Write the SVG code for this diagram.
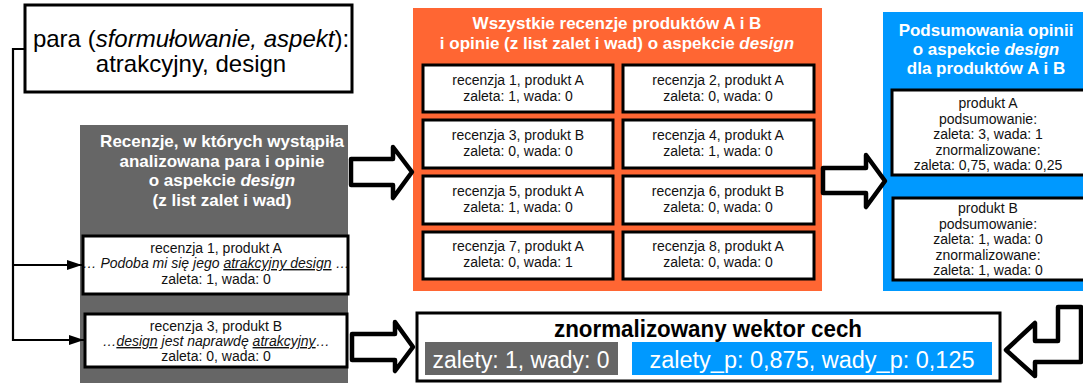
<svg xmlns="http://www.w3.org/2000/svg" width="1083" height="383" viewBox="0 0 1083 383">
  <defs>
    <style>
      text { font-family: "Liberation Sans", Arial, sans-serif; }
      .box { fill: #ffffff; stroke: #000000; stroke-width: 3; }
      .t14 { font-size: 14px; fill: #111111; text-anchor: middle; }
      .head { font-size: 17px; font-weight: bold; fill: #ffffff; text-anchor: middle; }
      .big { font-size: 24px; fill: #000000; text-anchor: middle; }
      .blk { fill: #ffffff; stroke: #000000; stroke-width: 4.5; stroke-linejoin: round; }
      .wire { fill: none; stroke: #000000; stroke-width: 2.2; }
      .u { text-decoration: underline; }
    </style>
    <marker id="tri" markerWidth="16" markerHeight="12" refX="15" refY="6" orient="auto" markerUnits="userSpaceOnUse">
      <path d="M0,1 L15,6 L0,11 Z" fill="#000000"/>
    </marker>
  </defs>

  <!-- word pair -->
  <g id="pair">
    <rect class="box" x="25" y="5" width="327" height="87"/>
    <text class="big" x="191" y="47">para (<tspan font-style="italic">sformułowanie, aspekt</tspan>):</text>
    <text class="big" x="191" y="72">atrakcyjny, design</text>
  </g>

  <!-- reviews that contain the pair -->
  <g id="matched">
    <rect x="80" y="125" width="268" height="270" fill="#666666"/>
    <text class="head" x="222" y="147" font-size="16.8">Recenzje, w których wystąpiła</text>
    <text class="head" x="222" y="167" font-size="16.8">analizowana para i opinie</text>
    <text class="head" x="222" y="186" font-size="16.8">o aspekcie <tspan font-style="italic">design</tspan></text>
    <text class="head" x="222" y="206" font-size="16.8">(z list zalet i wad)</text>
    <g id="matched-r1">
      <rect class="box" x="83" y="236" width="265" height="58"/>
      <text class="t14" x="216" y="253">recenzja 1, produkt A</text>
      <text class="t14" x="216" y="268" font-style="italic">… Podoba mi się jego <tspan class="u">atrakcyjny design</tspan> …</text>
      <text class="t14" x="216" y="284">zaleta: 1, wada: 0</text>
    </g>
    <g id="matched-r3">
      <rect class="box" x="85" y="314" width="262" height="53"/>
      <text class="t14" x="216" y="331">recenzja 3, produkt B</text>
      <text class="t14" x="216" y="346" font-style="italic">…<tspan class="u">design</tspan> jest naprawdę <tspan class="u">atrakcyjny</tspan>…</text>
      <text class="t14" x="216" y="361">zaleta: 0, wada: 0</text>
    </g>
  </g>

  <!-- all reviews -->
  <g id="all-reviews">
    <rect x="413" y="8" width="409" height="283" fill="#ff6633"/>
    <text class="head" x="617" y="29">Wszystkie recenzje produktów A i B</text>
    <text class="head" x="617" y="49">i opinie (z list zalet i wad) o aspekcie <tspan font-style="italic">design</tspan></text>
    <g id="r1"><rect class="box" x="423" y="65" width="190" height="47"/>
      <text class="t14" x="518" y="85">recenzja 1, produkt A</text><text class="t14" x="518" y="101">zaleta: 1, wada: 0</text></g>
    <g id="r2"><rect class="box" x="623" y="65" width="191" height="47"/>
      <text class="t14" x="718" y="85">recenzja 2, produkt A</text><text class="t14" x="718" y="101">zaleta: 0, wada: 0</text></g>
    <g id="r3"><rect class="box" x="423" y="120" width="190" height="48"/>
      <text class="t14" x="518" y="140">recenzja 3, produkt B</text><text class="t14" x="518" y="156">zaleta: 0, wada: 0</text></g>
    <g id="r4"><rect class="box" x="623" y="120" width="191" height="48"/>
      <text class="t14" x="718" y="140">recenzja 4, produkt A</text><text class="t14" x="718" y="156">zaleta: 1, wada: 0</text></g>
    <g id="r5"><rect class="box" x="423" y="176" width="190" height="48"/>
      <text class="t14" x="518" y="196">recenzja 5, produkt A</text><text class="t14" x="518" y="212">zaleta: 1, wada: 0</text></g>
    <g id="r6"><rect class="box" x="623" y="176" width="191" height="48"/>
      <text class="t14" x="718" y="196">recenzja 6, produkt B</text><text class="t14" x="718" y="212">zaleta: 0, wada: 0</text></g>
    <g id="r7"><rect class="box" x="423" y="232" width="190" height="47"/>
      <text class="t14" x="518" y="251">recenzja 7, produkt A</text><text class="t14" x="518" y="267">zaleta: 0, wada: 1</text></g>
    <g id="r8"><rect class="box" x="623" y="232" width="191" height="47"/>
      <text class="t14" x="718" y="251">recenzja 8, produkt A</text><text class="t14" x="718" y="267">zaleta: 0, wada: 0</text></g>
  </g>

  <!-- per-product summaries -->
  <g id="summaries">
    <rect x="883" y="12" width="210" height="279" fill="#0099ff"/>
    <text class="head" x="986" y="36">Podsumowania opinii</text>
    <text class="head" x="986" y="55">o aspekcie <tspan font-style="italic">design</tspan></text>
    <text class="head" x="986" y="74">dla produktów A i B</text>
    <g id="sum-a">
      <rect class="box" x="892" y="90" width="200" height="85"/>
      <text class="t14" x="988" y="108">produkt A</text>
      <text class="t14" x="988" y="123.5">podsumowanie:</text>
      <text class="t14" x="988" y="139">zaleta: 3, wada: 1</text>
      <text class="t14" x="988" y="154.5">znormalizowane:</text>
      <text class="t14" x="988" y="170">zaleta: 0,75, wada: 0,25</text>
    </g>
    <g id="sum-b">
      <rect class="box" x="893" y="198" width="200" height="82"/>
      <text class="t14" x="988" y="213">produkt B</text>
      <text class="t14" x="988" y="228.5">podsumowanie:</text>
      <text class="t14" x="988" y="244">zaleta: 1, wada: 0</text>
      <text class="t14" x="988" y="259.5">znormalizowane:</text>
      <text class="t14" x="988" y="275">zaleta: 1, wada: 0</text>
    </g>
  </g>

  <!-- feature vector -->
  <g id="vector">
    <rect class="box" x="417" y="313" width="583" height="68"/>
    <text x="708" y="337" font-size="24" font-weight="bold" text-anchor="middle" textLength="308" lengthAdjust="spacingAndGlyphs">znormalizowany wektor cech</text>
    <rect x="425" y="342" width="193" height="33" fill="#666666"/>
    <text x="521" y="368" font-size="23" fill="#ffffff" text-anchor="middle" textLength="177" lengthAdjust="spacingAndGlyphs">zalety: 1, wady: 0</text>
    <rect x="632" y="342" width="360" height="33" fill="#0099ff"/>
    <text x="812" y="368" font-size="23" fill="#ffffff" text-anchor="middle" textLength="325" lengthAdjust="spacingAndGlyphs">zalety_p: 0,875, wady_p: 0,125</text>
  </g>

  <!-- connectors -->
  <g id="connectors">
    <polyline class="wire" points="25,49 13,49 13,340 84,340" marker-end="url(#tri)"/>
    <line class="wire" x1="13" y1="265" x2="82" y2="265" marker-end="url(#tri)"/>
    <polygon class="blk" points="351,159 393,159 393,147 412,172 393,198 393,185 351,185"/>
    <polygon class="blk" points="352,334 395,334 395,322 413,347 395,371 395,360 352,360"/>
    <polygon class="blk" points="823,168 866,168 866,155 885,181 866,207 866,193 823,193"/>
    <polygon class="blk" points="1006,350 1035,323 1035,341 1058,341 1058,307 1081,307 1081,362 1035,362 1035,376"/>
  </g>
</svg>
